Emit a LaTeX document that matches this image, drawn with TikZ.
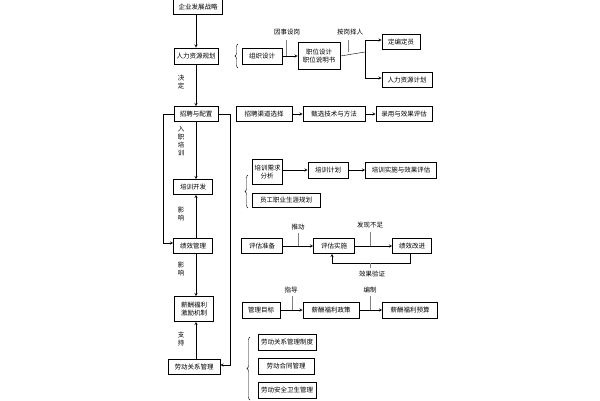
\documentclass[tikz,border=0pt]{standalone}
\usepackage{fontspec}
\setmainfont{Noto Sans CJK SC}
\usetikzlibrary{arrows,calc,positioning,decorations.pathreplacing}
\tikzset{
  box/.style={draw,thick,inner sep=2pt,font=\fontsize{6.5}{8}\selectfont,align=center},
  lbl/.style={font=\fontsize{6.5}{8}\selectfont,align=center},
  vlbl/.style={font=\fontsize{6.5}{8}\selectfont,align=center,text width=7pt},
  arr/.style={->,>=stealth},
  brc/.style={decorate,decoration={brace,amplitude=3pt,mirror}}
}
\begin{document}
\begin{tikzpicture}[x=1pt,y=-1pt]
  \useasboundingbox (0,0) rectangle (600,400);
  % left column
  \node[box,line width=1.2pt,minimum width=49pt,minimum height=15pt] (qy) at (198,7) {企业发展战略};
  \node[box,minimum width=44pt,minimum height=16pt] (rl) at (196,56) {人力资源规划};
  \node[box,minimum width=44pt,minimum height=15pt] (zp) at (196,114) {招聘与配置};
  \node[box,minimum width=39pt,minimum height=15pt] (px) at (193,187) {培训开发};
  \node[box,minimum width=39pt,minimum height=15pt] (jx) at (193,246) {绩效管理};
  \node[box,minimum width=39pt,minimum height=25pt] (xc) at (194,309) {薪酬福利\\激励机制};
  \node[box,minimum width=52pt,minimum height=15pt] (ld) at (194,367) {劳动关系管理};
  \draw[arr] (qy.south -| 196,0) -- (rl.north -| 196,0);
  \draw[arr] (rl.south -| 196,0) -- (zp.north -| 196,0);
  \draw[arr] (zp.south -| 196,0) -- (px.north -| 196,0);
  \draw[arr] (jx.north -| 196,0) -- (px.south -| 196,0);
  \draw[arr] (jx.south -| 196,0) -- (xc.north -| 196,0);
  \draw[arr] (ld.north -| 196,0) -- (xc.south -| 196,0);
  \node[vlbl] at (181,82) {决\\定};
  \node[vlbl] at (181,141) {入\\职\\培\\训};
  \node[vlbl] at (181,214) {影\\响};
  \node[vlbl] at (181,269) {影\\响};
  \node[vlbl] at (181,339) {支\\持};
  \draw[arr] (zp.west) -- (163,114) -- (163,243) -- (jx.west |- 0,243);
  \draw[arr] (zp.east) -- (230,114) -- (230,365) -- (ld.east |- 0,365);
  % planning
  \draw[brc] (238,44) -- (238,68);
  \node[box,minimum width=40pt,minimum height=16pt] (zz) at (262,56) {组织设计};
  \node[box,minimum width=42pt,minimum height=27pt] (zw) at (319,56) {职位设计\\职位说明书};
  \node[box,minimum width=38pt,minimum height=15pt] (db) at (401,42) {定编定员};
  \node[box,minimum width=50pt,minimum height=15pt] (rj) at (407,80) {人力资源计划};
  \draw[arr] (zz) -- (zw);
  \draw[gray] (286,56) -- (286,40);
  \node[lbl] at (287,32) {因事设岗};
  \draw (zw.east) -- (365,52);
  \draw[gray] (348,52) -- (348,40);
  \node[lbl] at (350,32) {按岗择人};
  \draw[arr] (365,40) -- (db.west |- 0,40);
  \draw (365,40) -- (365,78);
  \draw[arr] (365,78) -- (rj.west |- 0,78);
  % recruiting
  \node[box,minimum width=56pt,minimum height=15pt] (qd) at (264,114) {招聘渠道选择};
  \node[box,minimum width=62pt,minimum height=15pt] (zx) at (334,114) {甄选技术与方法};
  \node[box,minimum width=56pt,minimum height=15pt] (ly) at (404,114) {录用与效果评估};
  \draw[arr] (qd) -- (zx);
  \draw[arr] (zx) -- (ly);
  % training
  \node[box,minimum width=30pt,minimum height=25pt,text width=25pt] (xq) at (267,172) {培训需求\\分析};
  \node[box,minimum width=40pt,minimum height=16pt] (jh) at (328,170) {培训计划};
  \node[box,minimum width=71pt,minimum height=16pt] (ss) at (401,170) {培训实施与效果评估};
  \node[box,minimum width=68pt,minimum height=14pt] (zy) at (286,200) {员工职业生涯规划};
  \draw[brc] (248,175) -- (248,208);
  \draw[arr] (xq.east |- jh) -- (jh);
  \draw[arr] (jh) -- (ss);
  % performance
  \node[box,minimum width=41pt,minimum height=15pt] (zb) at (262,246) {评估准备};
  \node[box,minimum width=41pt,minimum height=15pt] (pg) at (334,246) {评估实施};
  \node[box,minimum width=39pt,minimum height=15pt] (gj) at (412,246) {绩效改进};
  \draw[arr] (zb) -- (pg);
  \draw[arr] (pg) -- (gj);
  \draw[gray] (298,246) -- (298,233);
  \node[lbl] at (298,227) {推动};
  \draw[gray] (370,246) -- (370,232);
  \node[lbl] at (370,225) {发现不足};
  \draw[arr] (gj.south -| 410,0) -- (410,263) -- (332,263) -- (pg.south -| 332,0);
  \draw[gray] (370,263) -- (370,268);
  \node[lbl] at (372,274) {效果验证};
  % compensation
  \node[box,minimum width=38pt,minimum height=16pt] (mb) at (261,310) {管理目标};
  \node[box,minimum width=56pt,minimum height=16pt] (zc) at (331,310) {薪酬福利政策};
  \node[box,minimum width=55pt,minimum height=16pt] (ys) at (410,310) {薪酬福利预算};
  \draw[arr] (mb) -- (zc);
  \draw[arr] (zc) -- (ys);
  \draw[gray] (292,310) -- (292,296);
  \node[lbl] at (291,290) {指导};
  \draw[gray] (370,310) -- (370,296);
  \node[lbl] at (370,290) {编制};
  % labour relations
  \draw[brc] (250,337) -- (250,400);
  \node[box,minimum width=58pt,minimum height=16pt] (zd) at (287,342) {劳动关系管理制度};
  \node[box,minimum width=56pt,minimum height=16pt] (ht) at (286,366) {劳动合同管理};
  \node[box,minimum width=58pt,minimum height=16pt] (aq) at (287,390) {劳动安全卫生管理};
\end{tikzpicture}
\end{document}
